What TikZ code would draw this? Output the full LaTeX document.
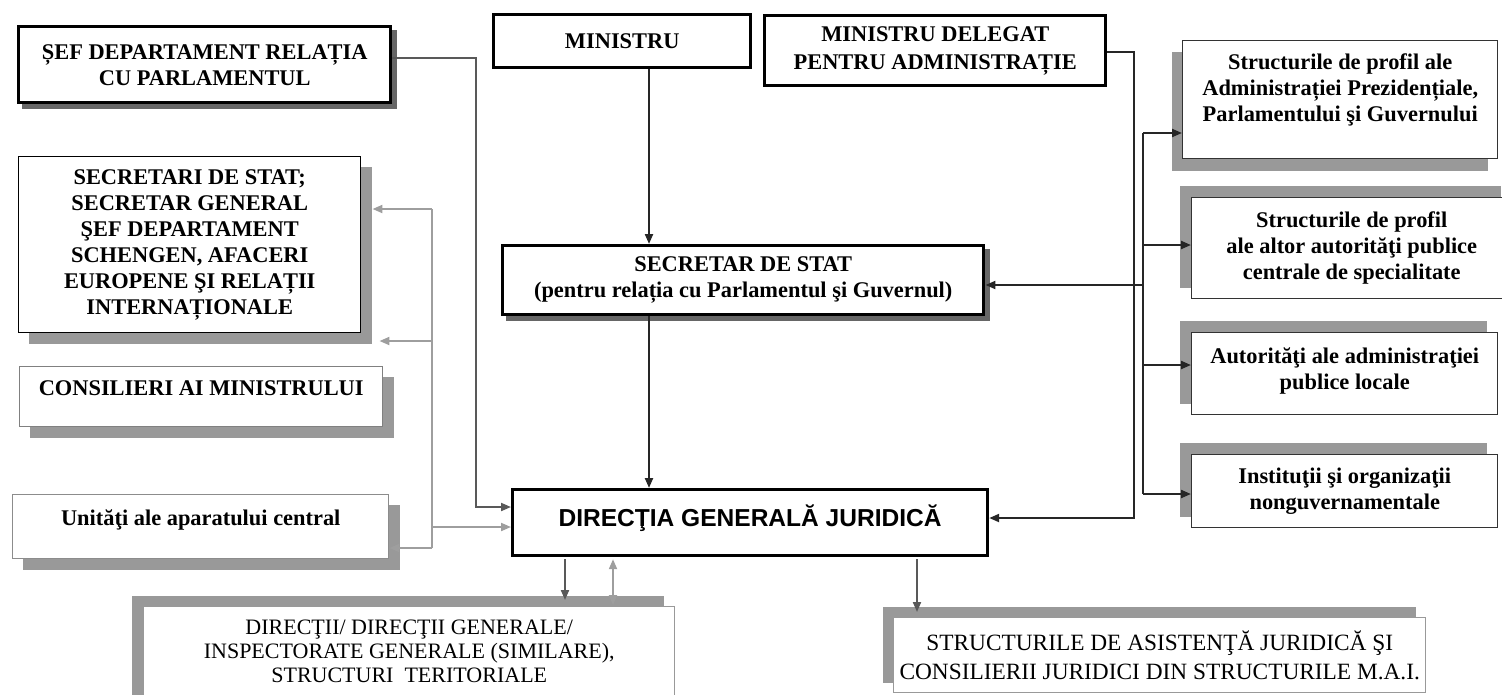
\documentclass[tikz,border=0pt]{standalone}
\usepackage{fontspec}
\setmainfont{Liberation Serif}
\newfontfamily\dgjfont{Liberation Sans}
\usepackage{tikz}
\usetikzlibrary{arrows.meta,backgrounds}
% extra depth under the last line, so the text sits higher in its box
\newcommand{\raiseby}[1]{\rule[-#1]{0pt}{#1}}

\begin{document}
\begin{tikzpicture}[x=0.75pt,y=0.75pt,yscale=-1,xscale=1,
  every node/.style={inner sep=0.75pt,align=center,anchor=north west},
  boldtext/.style={font=\fontsize{16.8}{19.5}\selectfont\bfseries},
  headbox/.style={draw,line width=2.6pt,fill=white,boldtext},
  plainbox/.style={draw=#1,line width=1.1pt,fill=white,boldtext},
  lightbox/.style={draw=black!40,line width=1.1pt,fill=white,font=\fontsize{16.5}{18}\selectfont},
  shade/.style={fill=black!40},
  tip/.style={-{Triangle[length=7.5pt,width=6pt]}},
  conn/.style={line width=1.6pt,black!85,tip},
  darkconn/.style={line width=1.5pt,black!65,tip},
  greyconn/.style={line width=1.5pt,black!38,tip},
]
\useasboundingbox (0,0) rectangle (1502,694);

%Shape: Rectangle - left column
\node (sefdep) at (17,25) [headbox,minimum width=279pt,minimum height=57pt] {ȘEF DEPARTAMENT RELAȚIA\\CU PARLAMENTUL};
\node (secgen) at (18,156) [plainbox=black,minimum width=256.5pt,minimum height=132pt] {SECRETARI DE STAT;\\SECRETAR GENERAL\\ŞEF DEPARTAMENT\\SCHENGEN, AFACERI\\EUROPENE ŞI RELAȚII\\INTERNAȚIONALE};
\node (consil) at (19,366) [plainbox=black!50,minimum width=272.25pt,minimum height=45pt] {CONSILIERI AI MINISTRULUI\raiseby{13.5pt}};
\node (unitati) at (12,494) [plainbox=black!45,minimum width=282pt,minimum height=48pt] {Unităţi ale aparatului central\raiseby{13.5pt}};

%Shape: Rectangle - middle
\node (ministru) at (492,13) [headbox,minimum width=192.75pt,minimum height=39.75pt] {MINISTRU};
\node (mindel) at (763,14) [headbox,minimum width=255.75pt,minimum height=52.5pt,font=\fontsize{16.8}{21}\selectfont\bfseries] {MINISTRU DELEGAT\\PENTRU ADMINISTRAȚIE};
\node (secstat) at (501,244) [headbox,minimum width=360.75pt,minimum height=51.75pt] {SECRETAR DE STAT\\(pentru relația cu Parlamentul şi Guvernul)};
\node (dgj) at (511,488) [draw,line width=2.4pt,fill=white,minimum width=356.25pt,minimum height=49.5pt,font=\dgjfont\fontsize{18.4}{22}\selectfont\bfseries] {DIRECŢIA GENERALĂ JURIDICĂ\raiseby{10.5pt}};

%Shape: Rectangle - right column
\node (profadm) at (1182,40) [plainbox=black!80,minimum width=236.25pt,minimum height=88.5pt] {Structurile de profil ale\\Administrației Prezidențiale,\\Parlamentului şi Guvernului\raiseby{18pt}};
\node (profalt) at (1191,197) [plainbox=black!80,minimum width=240pt,minimum height=75.75pt] {Structurile de profil\\ale altor autorităţi publice\\centrale de specialitate};
\node (autloc) at (1191,332) [plainbox=black!80,minimum width=229.5pt,minimum height=61.5pt] {Autorităţi ale administraţiei\\publice locale\raiseby{7.5pt}};
\node (instong) at (1191,454) [plainbox=black!80,minimum width=229.5pt,minimum height=54.75pt] {Instituţii şi organizaţii\\nonguvernamentale};

%Shape: Rectangle - bottom
\node (directii) at (143,606) [lightbox,minimum width=398.25pt,minimum height=75pt] {DIRECŢII/ DIRECŢII GENERALE/\\INSPECTORATE GENERALE (SIMILARE),\\STRUCTURI\ \ TERITORIALE\raiseby{9pt}};
\node (asist) at (893,617) [lightbox,minimum width=399pt,minimum height=56.25pt,font=\fontsize{17.5}{21.5}\selectfont] {STRUCTURILE DE ASISTENŢĂ JURIDICĂ ŞI\\CONSILIERII JURIDICI DIN STRUCTURILE M.A.I.};

%Shadows
\begin{scope}[on background layer]
\foreach \n/\dx/\dy in {secgen/11/11, consil/11/11, unitati/11/11, profadm/-10/12, profalt/-11/-11, autloc/-11/-11, instong/-11/-11, directii/-11/-10, asist/-10/-10}
  \fill[shade] ([shift={(\dx,\dy)}]\n.north west) rectangle ([shift={(\dx,\dy)}]\n.south east);
\foreach \n in {sefdep, secstat}
  \fill[black!60] ([shift={(5,5)}]\n.north west) rectangle ([shift={(5,5)}]\n.south east);
\end{scope}

%Straight Lines - ministers to the legal direction
\coordinate (spine) at (649,0);
\draw[conn] (ministru.south -| spine) -- (secstat.north -| spine);
\draw[conn] (secstat.south -| spine) -- (dgj.north -| spine);
\coordinate (d1) at (1134,52);
\coordinate (d2) at (1134,518);
\draw[conn] (d1 -| mindel.east) -- (d1) -- (d2) -- (d2 -| dgj.east);

%Straight Lines - right bus
\coordinate (b0) at (1143,285);
\coordinate (b1) at (1143,133);
\coordinate (b2) at (1143,245);
\coordinate (b3) at (1143,365);
\coordinate (b4) at (1143,494);
\draw[line width=1.6pt,black!85] (b1) -- (b4);
\foreach \c/\n in {b1/profadm, b2/profalt, b3/autloc, b4/instong}
  \draw[conn] (\c) -- (\c -| \n.west);
\draw[conn] (b0) -- (b0 -| secstat.east);

%Straight Lines - left side
\coordinate (s1) at (476,58);
\coordinate (s2) at (476,507);
\draw[darkconn] (s1 -| sefdep.east) -- (s1) -- (s2) -- (s2 -| dgj.west);
\coordinate (g1) at (432,209);
\coordinate (g2) at (432,341);
\coordinate (g3) at (432,527);
\coordinate (g4) at (432,548);
\draw[line width=1.5pt,black!38] (g1) -- (g4);
\draw[greyconn,shorten >=8.25pt] (g1) -- (g1 -| secgen.east);
\draw[greyconn,shorten >=13.5pt] (g2) -- (g2 -| secgen.east);
\draw[greyconn] (g3) -- (g3 -| dgj.west);
\draw[greyconn] (g4) -- (g4 -| unitati.east);

%Straight Lines - bottom
\coordinate (v1) at (565,0);
\coordinate (v2) at (613,0);
\coordinate (v3) at (917,0);
\draw[darkconn,shorten <=1.5pt,shorten >=4.5pt] (dgj.south -| v1) -- (directii.north -| v1);
\draw[greyconn,{Triangle[length=7.5pt,width=6pt]}-{Triangle[length=7.5pt,width=6pt]},shorten <=1.5pt,shorten >=0.75pt] (dgj.south -| v2) -- (directii.north -| v2);
\draw[darkconn,shorten <=1.5pt,shorten >=3.75pt] (dgj.south -| v3) -- (asist.north -| v3);
\end{tikzpicture}
\end{document}
